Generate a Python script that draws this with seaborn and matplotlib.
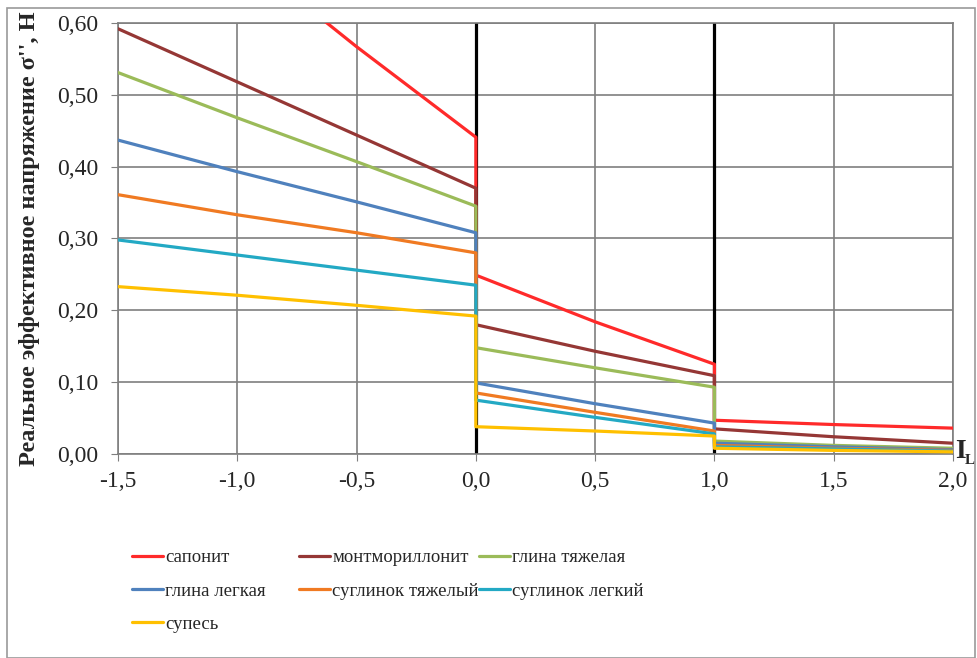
import numpy as np
import pandas as pd
import seaborn as sns
import matplotlib.pyplot as plt
from matplotlib.ticker import FuncFormatter, MultipleLocator
from matplotlib.patches import Rectangle

# значения
x_pts = [-1.5, -1.0, -0.5, 0.0, 0.0, 0.5, 1.0, 1.0, 1.5, 2.0]

saponit = [0.83, 0.70, 0.567, 0.441, 0.249, 0.184, 0.125, 0.047, 0.041, 0.036]
montmor = [0.592, 0.518, 0.444, 0.370, 0.180, 0.143, 0.109, 0.035, 0.024, 0.015]
glina_tyazh = [0.531, 0.468, 0.407, 0.345, 0.148, 0.120, 0.093, 0.018, 0.012, 0.008]
glina_legk = [0.437, 0.393, 0.351, 0.308, 0.099, 0.070, 0.043, 0.015, 0.010, 0.006]
sugl_tyazh = [0.361, 0.333, 0.308, 0.280, 0.085, 0.058, 0.032, 0.012, 0.008, 0.005]
sugl_legk = [0.298, 0.277, 0.256, 0.235, 0.075, 0.051, 0.028, 0.010, 0.007, 0.004]
supes = [0.233, 0.221, 0.207, 0.192, 0.038, 0.032, 0.025, 0.008, 0.005, 0.003]

names = ['сапонит', 'монтмориллонит', 'глина тяжелая', 'глина легкая',
         'суглинок тяжелый', 'суглинок легкий', 'супесь']
series = [saponit, montmor, glina_tyazh, glina_legk, sugl_tyazh, sugl_legk, supes]
colors = ['#FF2A2A', '#953735', '#9BBB59', '#4F81BD', '#F07A22', '#23A9C4', '#FFC000']

rows = []
for n, s in zip(names, series):
    for xv, yv in zip(x_pts, s):
        rows.append({'IL': xv, 'sigma': yv, 'grunt': n})
df = pd.DataFrame(rows)

sns.set_style('white')
plt.rcParams['font.family'] = ['Liberation Serif', 'DejaVu Serif']

fig = plt.figure(figsize=(9.77, 6.58), dpi=100)
ax = fig.add_axes([118 / 977, 1 - 454 / 658, (953 - 118) / 977, (454 - 23) / 658])

sns.lineplot(data=df, x='IL', y='sigma', hue='grunt', hue_order=names, palette=colors,
             estimator=None, sort=False, units='grunt', linewidth=2.3, ax=ax, zorder=3)

ax.set_xlim(-1.5, 2.0)
ax.set_ylim(0, 0.6)
ax.xaxis.set_major_locator(MultipleLocator(0.5))
ax.yaxis.set_major_locator(MultipleLocator(0.1))
ax.xaxis.set_major_formatter(FuncFormatter(lambda v, p: f'{v:.1f}'.replace('.', ',')))
ax.yaxis.set_major_formatter(FuncFormatter(lambda v, p: f'{v:.2f}'.replace('.', ',')))
ax.grid(True, color='#7F7F7F', linewidth=1.2, zorder=0)
ax.set_axisbelow(True)
for sp in ax.spines.values():
    sp.set_color('#7F7F7F')
    sp.set_linewidth(1.2)
ax.axvline(0, color='black', linewidth=2.3, zorder=2)
ax.axvline(1, color='black', linewidth=2.3, zorder=2)
ax.tick_params(axis='both', labelsize=17, length=5, color='#7F7F7F', direction='out',
               left=True, bottom=True)
ax.tick_params(axis='x', pad=7)
ax.tick_params(axis='y', pad=9)
ax.set_xlabel('')
ax.set_ylabel("Реальное эффективное напряжение σ'', Н", fontsize=17.5, fontweight='bold')
ax.yaxis.set_label_coords(-0.094, 0.5)

# подпись оси x справа
ax.text(955 / 977, 1 - 451 / 658, 'I', transform=fig.transFigure, fontsize=20,
        fontweight='bold', ha='left', va='center')
ax.text(965 / 977, 1 - 460 / 658, 'L', transform=fig.transFigure, fontsize=11,
        fontweight='bold', ha='left', va='center')

handles, labels = ax.get_legend_handles_labels()
ax.get_legend().remove()
cols = [[0, 3, 6], [1, 4], [2, 5]]
xs = [123, 290, 470]
for c, xc in zip(cols, xs):
    fig.legend([handles[i] for i in c], [labels[i] for i in c], loc='upper left',
               bbox_to_anchor=(xc / 977, 1 - 540 / 658), frameon=False, fontsize=13.5,
               handlelength=1.65, handletextpad=0.1, labelspacing=0.85, borderpad=0)

fig.patches.append(Rectangle((7 / 977, 0), 1 - 9 / 977, 1 - 8 / 658, transform=fig.transFigure,
                             fill=False, edgecolor='#9A9A9A', linewidth=1.2))

fig.savefig('out.png', dpi=100)
